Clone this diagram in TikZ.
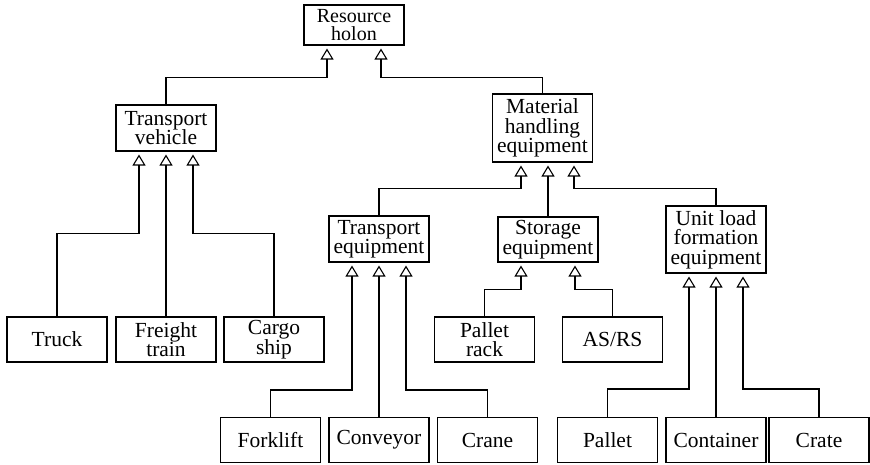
\documentclass[tikz,border=0pt]{standalone}
\usepackage{fontspec}
\setmainfont{Liberation Serif}
\usetikzlibrary{arrows.meta}

\begin{document}
\begin{tikzpicture}[x=1pt, y=-1pt, line width=1.1pt,
	every node/.style={font=\fontsize{21.5}{19.5}\selectfont},
	box/.style={draw, align=center, minimum width=100pt, minimum height=45pt, inner sep=0pt},
	inh/.style={-{Triangle[open, width=13pt, length=11pt]}, shorten >=3pt}]
	\useasboundingbox (0,0) rectangle (870,464);

	% Upper levels
	\node[box, minimum height=40pt, font=\fontsize{20}{18.5}\selectfont] (res) at (354,25) {Resource\\holon};
	\node[box, minimum height=46pt] (tv) at (166,128) {Transport\\vehicle};
	\node[box, minimum height=68pt] (mh) at (542.5,128) {Material\\handling\\equipment};
	\node[box, minimum height=46pt] (te) at (379,239) {Transport\\equipment};
	\node[box] (stor) at (548,239.5) {Storage\\equipment};
	\node[box, minimum height=67pt] (ul) at (716,239.5) {Unit load\\formation\\equipment};

	% Leaves
	\node[box] (truck) at (57,339.5) {Truck};
	\node[box] (freight) at (166,339.5) {Freight\\train};
	\node[box] (cargo) at (274,339.5) {Cargo\\ship};
	\node[box] (rack) at (484.5,339.5) {Pallet\\rack};
	\node[box] (asrs) at (612.5,339.5) {AS/RS};
	\node[box] (forklift) at (270.5,440) {Forklift};
	\node[box] (conv) at (379,440) {Conveyor};
	\node[box] (crane) at (487.5,440) {Crane};
	\node[box] (pallet) at (607.5,440) {Pallet};
	\node[box] (cont) at (716,440) {Container};
	\node[box] (crate) at (819,440) {Crate};

	% Resource holon
	\draw[inh] (tv.north) -- ++(0,-27) -| ([xshift=-27pt]res.south);
	\draw[inh] (mh.north) -- ++(0,-16) -| ([xshift=27pt]res.south);

	% Transport vehicle
	\draw[inh] (truck.north) -- ++(0,-83) -| ([xshift=-27pt]tv.south);
	\draw[inh] (freight.north) -- (tv.south);
	\draw[inh] (cargo.north) -- ++(0,-83) -| ([xshift=27pt]tv.south);

	% Material handling equipment
	\draw[inh] (te.north) -- ++(0,-27) -| ([xshift=-21.5pt]mh.south);
	\draw[inh] (stor.north) -- ([xshift=5.5pt]mh.south);
	\draw[inh] (ul.north) -- ++(0,-17) -| ([xshift=31.5pt]mh.south);

	% Transport equipment
	\draw[inh] (forklift.north) -- ++(0,-27) -| ([xshift=-27pt]te.south);
	\draw[inh] (conv.north) -- (te.south);
	\draw[inh] (crane.north) -- ++(0,-27) -| ([xshift=27pt]te.south);

	% Storage equipment
	\draw[inh] (rack.north) -- ++(0,-27) -| ([xshift=-27pt]stor.south);
	\draw[inh] (asrs.north) -- ++(0,-27) -| ([xshift=27pt]stor.south);

	% Unit load formation equipment
	\draw[inh] (pallet.north) -- ++(0,-28) -| ([xshift=-27pt]ul.south);
	\draw[inh] (cont.north) -- (ul.south);
	\draw[inh] (crate.north) -- ++(0,-28) -| ([xshift=27pt]ul.south);
\end{tikzpicture}
\end{document}
